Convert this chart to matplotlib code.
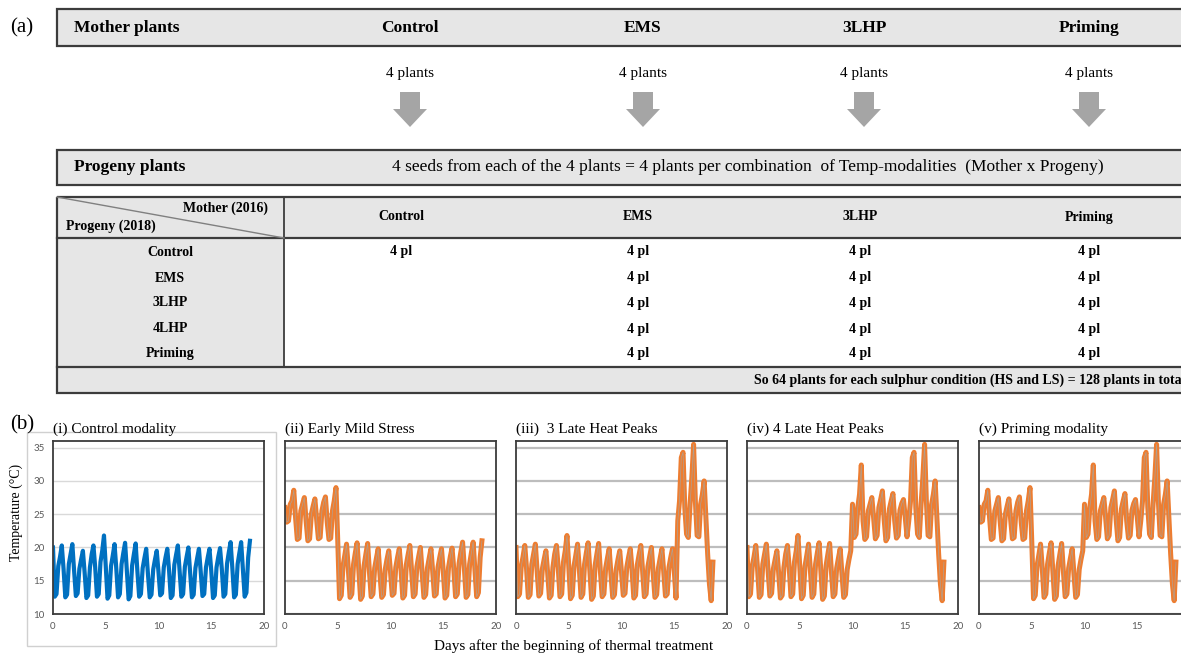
import numpy as np
import matplotlib
matplotlib.use('Agg')
import matplotlib.pyplot as plt
from matplotlib.patches import Rectangle, FancyArrow

plt.rcParams['font.family'] = ['Liberation Serif', 'DejaVu Serif']

W, H = 1181, 654

# ---- (a) experimental design
mother_treatments = ['Control', 'EMS', '3LHP', 'Priming']
plants_per_mother = [4, 4, 4, 4]
progeny_treatments = ['Control', 'EMS', '3LHP', '4LHP', 'Priming']
# plants per combination, rows = progeny, columns = mother (0 = not grown)
plants_grid = [[4, 4, 4, 4],
               [0, 4, 4, 4],
               [0, 4, 4, 4],
               [0, 4, 4, 4],
               [0, 4, 4, 4]]

# ---- (b) temperature records, one reading every 4 h
step_days = 4 / 24
control_temp = [
    20.0, 12.6, 13.0, 17.2, 18.6, 20.3,
    16.8, 12.5, 12.9, 17.5, 19.0, 20.5,
    16.5, 12.7, 13.1, 16.8, 18.2, 19.5,
    16.2, 12.4, 12.8, 17.0, 19.0, 20.3,
    17.0, 12.6, 13.0, 17.8, 19.5, 21.8,
    17.2, 12.3, 12.8, 17.2, 18.8, 20.5,
    16.8, 12.5, 13.0, 17.5, 19.2, 20.7,
    16.5, 12.2, 12.7, 17.3, 19.0, 20.6,
    16.4, 12.6, 13.0, 16.9, 18.4, 19.8,
    16.0, 12.5, 12.9, 16.7, 18.2, 19.5,
    16.3, 12.8, 13.1, 17.0, 18.5, 19.8,
    16.6, 12.4, 12.8, 17.4, 18.9, 20.3,
    16.5, 12.6, 13.0, 17.1, 18.6, 20.0,
    16.2, 12.5, 12.9, 16.9, 18.4, 19.8,
    16.4, 12.7, 13.0, 17.0, 18.5, 19.8,
    16.5, 12.4, 12.8, 17.0, 18.6, 19.9,
    16.8, 12.6, 13.0, 17.6, 19.3, 20.8,
    16.9, 12.5, 12.9, 17.5, 19.2, 20.8,
    16.7, 12.6, 13.2, 18.5, 21.0,
]
# warm days 0-5 (EMS, priming)
warm_start = [
    26.0, 23.8, 24.0, 26.5, 27.0, 28.6,
    24.5, 21.2, 21.4, 25.5, 26.5, 27.5,
    24.0, 21.0, 21.3, 25.0, 26.2, 27.3,
    24.2, 21.3, 21.5, 25.5, 26.8, 27.6,
    23.8, 21.2, 21.4, 25.5, 27.0, 29.0,
    21.0,
]
# warm days 10-15 (4LHP, priming), starts at reading 60
warm_mid = [
    26.5, 21.5, 22.0, 26.0, 28.0, 32.4,
    24.0, 21.2, 21.6, 25.5, 26.5, 27.5,
    24.5, 21.3, 21.8, 26.0, 27.2, 28.5,
    24.2, 21.0, 21.5, 25.8, 27.0, 28.1,
    24.0, 21.4, 21.8, 25.6, 26.6, 27.2,
    24.5, 21.6,
]
# late heat peaks, starts at reading 92
heat_peaks = [
    24.0, 27.0, 33.5, 34.3, 26.0, 22.0, 21.5,
    26.5, 30.5, 35.5, 27.0, 21.8, 21.6,
    26.5, 28.0, 30.0, 24.5, 19.0, 14.5, 12.0, 17.8,
]
panel_titles = ['(i) Control modality', '(ii) Early Mild Stress',
                '(iii)  3 Late Heat Peaks', '(iv) 4 Late Heat Peaks',
                '(v) Priming modality']

days = np.arange(len(control_temp)) * step_days


def splice(*parts):
    temp = np.array(control_temp, dtype=float)
    for start, vals in parts:
        temp[start:start + len(vals)] = vals
    return temp


series = [
    np.array(control_temp, dtype=float),
    splice((0, warm_start)),
    splice((92, heat_peaks)),
    splice((60, warm_mid), (92, heat_peaks)),
    splice((0, warm_start), (60, warm_mid), (92, heat_peaks)),
]

fig = plt.figure(figsize=(W / 100, H / 100), dpi=100)
ax0 = fig.add_axes([0, 0, 1, 1])
ax0.set_xlim(0, W)
ax0.set_ylim(H, 0)
ax0.axis('off')

grey_fill = '#e6e6e6'
edge = '#3c3c3c'
right = 1210

# ---------------- (a)
ax0.text(22, 28, '(a)', fontsize=15, ha='center', va='center')

col_x = [410, 643, 864, 1089]
ax0.add_patch(Rectangle((57, 9), right - 57, 37, fc=grey_fill, ec=edge, lw=1.6))
ax0.text(74, 28, 'Mother plants', fontsize=12.5, fontweight='bold', va='center')
for x, name, n in zip(col_x, mother_treatments, plants_per_mother):
    ax0.text(x, 28, name, fontsize=12.5, fontweight='bold', ha='center', va='center')
    ax0.text(x, 74, f'{n} plants', fontsize=11, ha='center', va='center')
    ax0.add_patch(FancyArrow(x, 92, 0, 35, width=20, head_width=34, head_length=18,
                             length_includes_head=True, fc='#a5a5a5', ec='none'))

ax0.add_patch(Rectangle((57, 150), right - 57, 35, fc=grey_fill, ec=edge, lw=1.6))
ax0.text(74, 167, 'Progeny plants', fontsize=12.5, fontweight='bold', va='center')
ax0.text(748, 167, '4 seeds from each of the 4 plants = 4 plants per combination  of '
         'Temp-modalities  (Mother x Progeny)', fontsize=12.5, ha='center', va='center')

# table
t_top, h_bot, r_bot, t_bot = 197, 238, 367, 393
split_x = 284
ax0.add_patch(Rectangle((57, t_top), right - 57, h_bot - t_top, fc=grey_fill, ec='none'))
ax0.add_patch(Rectangle((57, h_bot), split_x - 57, r_bot - h_bot, fc=grey_fill, ec='none'))
ax0.add_patch(Rectangle((57, r_bot), right - 57, t_bot - r_bot, fc=grey_fill, ec='none'))
ax0.add_patch(Rectangle((57, t_top), right - 57, t_bot - t_top, fc='none', ec=edge, lw=1.6))
ax0.plot([57, right], [h_bot, h_bot], color=edge, lw=1.6)
ax0.plot([57, right], [r_bot, r_bot], color=edge, lw=1.6)
ax0.plot([split_x, split_x], [t_top, r_bot], color=edge, lw=1.3)
ax0.plot([57, split_x], [t_top, h_bot], color='#808080', lw=1)
ax0.text(268, 208, 'Mother (2016)', fontsize=10, fontweight='bold', ha='right', va='center')
ax0.text(66, 226, 'Progeny (2018)', fontsize=10, fontweight='bold', ha='left', va='center')

tab_x = [401, 638, 860, 1089]
row_y = [252, 278, 303, 329, 354]
for x, name in zip(tab_x, mother_treatments):
    ax0.text(x, 217, name, fontsize=10, fontweight='bold', ha='center', va='center')
for y, name, row in zip(row_y, progeny_treatments, plants_grid):
    ax0.text(170, y, name, fontsize=10, fontweight='bold', ha='center', va='center')
    for x, n in zip(tab_x, row):
        if n:
            ax0.text(x, y, f'{n} pl', fontsize=10, fontweight='bold', ha='center', va='center')
ax0.text(754, 380, 'So 64 plants for each sulphur condition (HS and LS) = 128 plants in total',
         fontsize=10, fontweight='bold', ha='left', va='center')

# ---------------- (b)
ax0.text(22, 425, '(b)', fontsize=15, ha='center', va='center')
ax0.add_patch(Rectangle((27, 432), 249, 214, fc='none', ec='#d0d0d0', lw=1))
ax0.text(16, 512, 'Temperature (°C)', fontsize=10, rotation=90, ha='center', va='center')
ax0.text(574, 646, 'Days after the beginning of thermal treatment', fontsize=11,
         ha='center', va='center')

lefts = [53, 285, 516, 747, 979]
a_top, a_bot, a_w = 441, 614, 211
for i, (left, title, temp) in enumerate(zip(lefts, panel_titles, series)):
    ax0.text(left, 429, title, fontsize=11, ha='left', va='center')
    ax = fig.add_axes([left / W, 1 - a_bot / H, a_w / W, (a_bot - a_top) / H])
    ax.set_xlim(0, 20)
    ax.set_ylim(10, 36)
    # last panel is cut by the right edge, its "20" label is not shown
    ax.set_xticks([0, 5, 10, 15, 20] if i < 4 else [0, 5, 10, 15])
    ax.set_yticks([10, 15, 20, 25, 30, 35])
    ax.set_axisbelow(True)
    ax.tick_params(length=0, labelsize=7, labelcolor='#595959', pad=6)
    for lab in ax.get_xticklabels() + ax.get_yticklabels():
        lab.set_fontfamily('Lato')
    if i == 0:
        ax.grid(axis='y', color='#d9d9d9', lw=1)
        ax.plot(days, temp, color='#0070c0', lw=3.0, solid_joinstyle='round')
    else:
        ax.set_yticklabels([])
        ax.grid(axis='y', color='#bdbdbd', lw=1.6)
        ax.plot(days, temp, color='#ed7d31', lw=3.6, solid_joinstyle='round')
        ax.plot(days, temp, color='#b0a090', lw=0.5)
    for s in ax.spines.values():
        s.set_color('#3c3c3c')
        s.set_linewidth(1.3)

fig.savefig('out.png', dpi=100)
